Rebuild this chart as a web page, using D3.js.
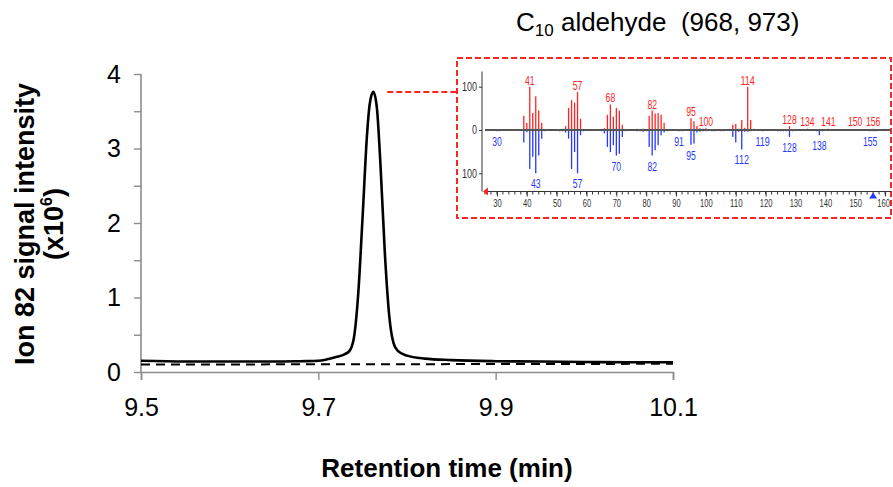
<!DOCTYPE html>
<html>
<head>
<meta charset="utf-8">
<script src="https://cdn.jsdelivr.net/npm/d3@7"></script>
<style>
  body { margin: 0; background: #fff; }
  svg { font-family: "Liberation Sans", Arial, sans-serif; }
  text { white-space: pre; }
</style>
</head>
<body>
<svg width="893" height="487"></svg>
<script>
// chromatogram, ion 82 (x10^6)
var rtTime = [9.50, 9.55, 9.60, 9.65, 9.68, 9.70, 9.71, 9.72, 9.73, 9.735, 9.74, 9.745, 9.75, 9.755, 9.758, 9.762, 9.766, 9.77, 9.775, 9.78, 9.785, 9.79, 9.80, 9.82, 9.85, 9.90, 9.95, 10.00, 10.05, 10.10];
var rtSignal = [0.15, 0.14, 0.14, 0.14, 0.145, 0.15, 0.17, 0.20, 0.24, 0.28, 0.45, 1.05, 2.10, 3.20, 3.60, 3.76, 3.55, 2.80, 1.60, 0.75, 0.38, 0.28, 0.22, 0.18, 0.16, 0.145, 0.14, 0.135, 0.13, 0.13];
var baseTime = [9.5, 10.1];
var baseSignal = [0.10, 0.11];

var xTicks = [9.5, 9.7, 9.9, 10.1];

// mass spectrum inset: upper (red) and lower (blue, drawn downward)
var upperMz = [36, 37, 38, 39, 40, 41, 42, 43, 44, 45, 46, 47, 48, 50, 51, 52, 53, 54, 55, 56, 57, 58, 59, 60, 61, 62, 63, 64, 65, 66, 67, 68, 69, 70, 71, 72, 73, 74, 75, 76, 77, 78, 79, 80, 81, 82, 83, 84, 85, 86, 87, 88, 89, 90, 91, 92, 93, 94, 95, 96, 97, 98, 99, 100, 101, 102, 103, 104, 105, 106, 107, 108, 109, 110, 111, 112, 113, 114, 115, 116, 117, 118, 119, 120, 124, 125, 126, 127, 128, 129, 130, 131, 132, 133, 134, 135, 137, 138, 139, 140, 141, 142, 143, 145, 146, 148, 149, 150, 151, 152, 154, 155, 156, 157, 160, 161];
var upperInt = [2, 2, 2, 33, 16, 100, 39, 78, 45, 17, 2, 2, 2, 2, 2, 2, 9, 51, 69, 63, 88, 26, 2, 2, 2, 2, 2, 2, 2, 4, 35, 59, 31, 51, 45, 12, 2, 2, 2, 2, 3, 2, 3, 2, 33, 45, 38, 39, 35, 17, 2, 2, 2, 2, 2, 2, 2, 2, 27, 20, 9, 4, 3, 4, 2, 2, 2, 2, 2, 2, 2, 2, 12, 14, 3, 23, 5, 100, 23, 3, 2, 2, 2, 2, 2, 2, 2, 2, 9, 2, 2, 2, 2, 2, 3, 2, 2, 2, 2, 2, 3, 2, 2, 2, 2, 2, 2, 2, 2, 2, 2, 2, 3, 2, 2, 2];
var lowerMz = [30, 31, 39, 40, 41, 42, 43, 44, 45, 46, 51, 52, 53, 54, 55, 56, 57, 58, 59, 65, 66, 67, 68, 69, 70, 71, 72, 73, 77, 78, 79, 80, 81, 82, 83, 84, 85, 86, 87, 91, 92, 95, 96, 97, 98, 99, 100, 102, 103, 105, 106, 109, 110, 111, 112, 113, 114, 115, 119, 124, 125, 126, 127, 128, 129, 137, 138, 139, 155, 156, 157];
var lowerInt = [3, 3, 29, 5, 90, 62, 100, 59, 20, 3, 3, 3, 6, 20, 90, 51, 100, 12, 3, 3, 8, 39, 51, 35, 59, 55, 16, 3, 3, 3, 4, 3, 39, 59, 47, 35, 12, 6, 3, 3, 3, 34, 31, 6, 4, 3, 3, 3, 3, 3, 3, 16, 29, 4, 45, 4, 4, 3, 3, 3, 3, 3, 3, 16, 3, 3, 12, 3, 3, 3, 3];
var upperLabels = [41, 57, 68, 82, 95, 100, 114, 128, 134, 141, 150, 156];
var lowerLabels = [30, 43, 57, 70, 82, 91, 95, 112, 119, 128, 138, 155];
var insetYTicks = [-100, 0, 100];
var insetXTicks = [30, 40, 50, 60, 70, 80, 90, 100, 110, 120, 130, 140, 150, 160];

var red = "#ff2424", blue = "#2638ff";

var svg = d3.select("svg");

var x = d3.scaleLinear().domain([9.5, 10.1]).range([141, 673]);
var y = d3.scaleLinear().domain([0, 4]).range([372, 74]);

// axes
var gx = svg.append("g")
    .attr("transform", "translate(0," + y(0) + ")")
    .call(d3.axisBottom(x).tickValues(xTicks).tickSize(8).tickPadding(18).tickFormat(d3.format(".1f")));
var gy = svg.append("g")
    .attr("transform", "translate(" + x(9.5) + ",0)")
    .call(d3.axisLeft(y).tickValues(d3.range(0, 4.01, 0.5)).tickSize(7).tickPadding(13)
        .tickFormat(function(d) { return d % 1 === 0 ? d : ""; }));
[gx, gy].forEach(function(g) {
    g.selectAll(".domain").attr("stroke", "#8c8c8c").attr("stroke-width", 1.6);
    g.selectAll(".tick line").attr("stroke", "#8c8c8c").attr("stroke-width", 1.4);
    g.selectAll("text").attr("font-size", 25).attr("fill", "#000")
        .attr("font-family", "Liberation Sans, Arial, sans-serif");
});
gy.select(".domain").attr("d", "M0," + y(0) + "V" + y(4));

// baseline (dashed) and chromatogram
var line = d3.line()
    .x(function(d) { return x(d[0]); })
    .y(function(d) { return y(d[1]); });

svg.append("path")
    .datum(d3.zip(baseTime, baseSignal))
    .attr("d", line)
    .attr("fill", "none")
    .attr("stroke", "#000")
    .attr("stroke-width", 2)
    .attr("stroke-dasharray", "9,6");

svg.append("path")
    .datum(d3.zip(rtTime, rtSignal))
    .attr("d", line.curve(d3.curveMonotoneX))
    .attr("fill", "none")
    .attr("stroke", "#000")
    .attr("stroke-width", 2.6);

// axis titles
svg.append("text")
    .attr("transform", "translate(34,224) rotate(-90)")
    .attr("text-anchor", "middle")
    .attr("font-size", 27).attr("font-weight", "bold")
    .text("Ion 82 signal intensity");
var sub = svg.append("text")
    .attr("transform", "translate(63,224) rotate(-90)")
    .attr("text-anchor", "middle")
    .attr("font-size", 27).attr("font-weight", "bold");
sub.append("tspan").text("(x10");
sub.append("tspan").attr("font-size", 16).attr("dy", -11).text("6");
sub.append("tspan").attr("dy", 11).text(")");

svg.append("text")
    .attr("x", 447).attr("y", 477)
    .attr("text-anchor", "middle")
    .attr("font-size", 26).attr("font-weight", "bold")
    .text("Retention time (min)");

// title
var title = svg.append("text").attr("x", 516).attr("y", 31).attr("font-size", 26);
title.append("tspan").text("C");
title.append("tspan").attr("font-size", 17).attr("dy", 5).text("10");
title.append("tspan").attr("dy", -5).text(" aldehyde  (968, 973)");

// ---- inset ----
var box = { x0: 457, y0: 58, x1: 891, y1: 218 };
var mz = d3.scaleLinear().domain([26, 162]).range([485, 891]);
var ri = d3.scaleLinear().domain([-100, 100]).range([173.3, 86.7]);

var peakIdx = d3.maxIndex(rtSignal);
svg.append("line")
    .attr("x1", x(rtTime[peakIdx]) + 14).attr("x2", box.x0)
    .attr("y1", y(rtSignal[peakIdx])).attr("y2", y(rtSignal[peakIdx]))
    .attr("stroke", red).attr("stroke-width", 2).attr("stroke-dasharray", "6,3");

svg.append("rect")
    .attr("x", box.x0).attr("y", box.y0)
    .attr("width", box.x1 - box.x0).attr("height", box.y1 - box.y0)
    .attr("fill", "#fff")
    .attr("stroke", red).attr("stroke-width", 2).attr("stroke-dasharray", "6,3");

var inset = svg.append("g");

function fitText(sel, perChar) {
    sel.attr("textLength", function() { return this.textContent.length * perChar; })
       .attr("lengthAdjust", "spacingAndGlyphs");
}

// y axis of inset
var iy = inset.append("g")
    .attr("transform", "translate(482,0)")
    .call(d3.axisLeft(ri).tickValues(insetYTicks).tickSize(3).tickPadding(2)
        .tickFormat(function(d) { return Math.abs(d); }));
iy.select(".domain").attr("d", "M0," + ri(135) + "V" + ri(-142)).attr("stroke", "#333");
iy.selectAll(".tick line").attr("stroke", "#333");
iy.selectAll("text").attr("font-size", 12).attr("fill", "#333").call(fitText, 5);

// x axis of inset
var xAxisY = ri(-142);
var ix = inset.append("g")
    .attr("transform", "translate(0," + xAxisY + ")")
    .call(d3.axisBottom(mz).tickValues(insetXTicks).tickSize(5).tickPadding(3));
ix.select(".domain").attr("d", "M" + mz(26) + ",0H" + mz(162)).attr("stroke", "#333");
ix.selectAll(".tick line").attr("stroke", "#333");
ix.selectAll("text").attr("font-size", 11).attr("fill", "#333").call(fitText, 4.2);
ix.selectAll(".tick text").filter(function(d) { return d === 160; }).attr("dx", -2);
ix.selectAll(".minor").data(d3.range(26, 162, 2)).enter().append("line")
    .attr("x1", function(d) { return mz(d); }).attr("x2", function(d) { return mz(d); })
    .attr("y1", 0).attr("y2", 3).attr("stroke", "#333");

// end markers
inset.append("path")
    .attr("d", "M" + (mz(26) - 2) + "," + xAxisY + "l5,-4v8z").attr("fill", red);
inset.append("path")
    .attr("d", "M" + mz(156) + "," + (xAxisY + 1) + "l-4,6h8z").attr("fill", blue);

// sticks
inset.selectAll(".up").data(d3.zip(upperMz, upperInt)).enter().append("line")
    .attr("x1", function(d) { return mz(d[0]); }).attr("x2", function(d) { return mz(d[0]); })
    .attr("y1", ri(0)).attr("y2", function(d) { return ri(d[1]); })
    .attr("stroke", red).attr("stroke-width", 1.3);
inset.selectAll(".down").data(d3.zip(lowerMz, lowerInt)).enter().append("line")
    .attr("x1", function(d) { return mz(d[0]); }).attr("x2", function(d) { return mz(d[0]); })
    .attr("y1", ri(0)).attr("y2", function(d) { return ri(-d[1]); })
    .attr("stroke", blue).attr("stroke-width", 1.3);

// zero line
inset.append("line")
    .attr("x1", mz(26)).attr("x2", mz(162))
    .attr("y1", ri(0)).attr("y2", ri(0))
    .attr("stroke", "#555").attr("stroke-width", 1.8);

// peak labels
function lookup(ms, vs, m) { var i = ms.indexOf(m); return i < 0 ? 0 : vs[i]; }

inset.selectAll(".ul").data(upperLabels).enter().append("text")
    .attr("x", function(d) { return mz(d); })
    .attr("y", function(d) { return ri(Math.max(lookup(upperMz, upperInt, d), 4)) - 2; })
    .attr("text-anchor", "middle").attr("font-size", 13).attr("fill", red)
    .text(function(d) { return d; })
    .call(fitText, 4.8);
inset.selectAll(".ll").data(lowerLabels).enter().append("text")
    .attr("x", function(d) { return mz(d); })
    .attr("y", function(d) { return ri(-Math.max(lookup(lowerMz, lowerInt, d), 3)) + 15; })
    .attr("text-anchor", "middle").attr("font-size", 13).attr("fill", blue)
    .text(function(d) { return d; })
    .call(fitText, 4.8);
</script>
</body>
</html>
